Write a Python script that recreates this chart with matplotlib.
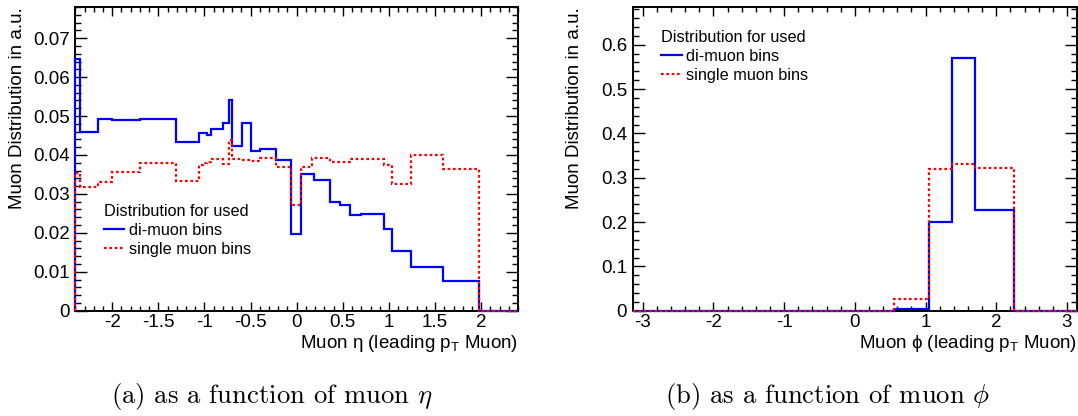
import numpy as np
import matplotlib
matplotlib.use('Agg')
import matplotlib.pyplot as plt
from matplotlib.ticker import MultipleLocator

plt.rcParams['font.family'] = ['Liberation Sans', 'DejaVu Sans']
plt.rcParams['axes.unicode_minus'] = False
plt.rcParams['mathtext.fontset'] = 'custom'
plt.rcParams['mathtext.rm'] = 'Liberation Sans'
plt.rcParams['mathtext.it'] = 'Liberation Sans:italic'

# eta histogram (bin edges + contents)
eta_edges_di = [-2.4, -2.346, -2.152, -2.007, -1.70, -1.306, -1.063, -0.977, -0.929,
                -0.796, -0.739, -0.702, -0.588, -0.497, -0.397, -0.227, -0.066, 0.049,
                0.186, 0.366, 0.466, 0.582, 0.696, 0.941, 1.038, 1.235, 1.581, 1.977, 2.4]
eta_di = [0.0647, 0.0460, 0.0492, 0.0490, 0.0492, 0.0433, 0.0456, 0.0452, 0.0466,
          0.0483, 0.0540, 0.0423, 0.0483, 0.0409, 0.0415, 0.0387, 0.0197, 0.0351,
          0.0335, 0.0278, 0.0272, 0.0246, 0.0248, 0.0211, 0.0153, 0.0111, 0.0076, 0.0]

eta_edges_single = [-2.4, -2.35, -2.152, -2.0, -1.70, -1.306, -1.063, -1.02, -0.977,
                    -0.929, -0.796, -0.739, -0.702, -0.588, -0.497, -0.397, -0.227,
                    -0.066, 0.049, 0.168, 0.366, 0.582, 0.941, 1.038, 1.235, 1.581,
                    1.977, 2.4]
eta_single = [0.0353, 0.0319, 0.0330, 0.0357, 0.0379, 0.0334, 0.0373, 0.0379, 0.0383,
              0.0389, 0.0377, 0.0439, 0.0389, 0.0387, 0.0385, 0.0392, 0.0369, 0.0272,
              0.0368, 0.0393, 0.0383, 0.0390, 0.0373, 0.0325, 0.0400, 0.0363, 0.0]

# phi histogram
phi_edges = [-np.pi, 0.55, 1.05, 1.37, 1.70, 2.25, np.pi]
phi_di = [0.0, 0.003, 0.200, 0.570, 0.228, 0.0]
phi_single = [0.0, 0.027, 0.320, 0.330, 0.322, 0.0]

legend_title = 'Distribution for used'
labels = ['di-muon bins', 'single muon bins']

fig = plt.figure(figsize=(10.78, 4.16), dpi=100)
ax1 = fig.add_axes([0.0699, 0.2531, 0.4107, 0.730])
ax2 = fig.add_axes([0.587, 0.2531, 0.412, 0.730])

def draw(ax, e1, v1, e2, v2):
    ax.stairs(v1, e1, baseline=0, color='#0000ff', lw=1.6, label=labels[0],
              zorder=3, clip_on=False)
    ax.stairs(v2, e2, baseline=0, color='#ff0000', lw=1.6, ls=(0, (1.2, 1.2)),
              label=labels[1], zorder=4, clip_on=False)
    for s in ax.spines.values():
        s.set_linewidth(1.4)
    ax.tick_params(which='both', direction='in', top=True, right=True,
                   labelsize=13.5, width=1.0, pad=4)
    ax.tick_params(axis='x', which='both', pad=2.5)
    ax.tick_params(axis='y', which='major', length=8.5)
    ax.tick_params(axis='y', which='minor', length=4.3)
    ax.tick_params(axis='x', which='major', length=6.5)
    ax.tick_params(axis='x', which='minor', length=3.3)
    ax.set_ylabel('Muon Distribution in a.u.', fontsize=13.5, loc='top')
    ax.yaxis.set_label_coords(-0.112, 1.0)

draw(ax1, eta_edges_di, eta_di, eta_edges_single, eta_single)
ax1.set_xlim(-2.4, 2.4)
ax1.set_ylim(0, 0.078)
ax1.xaxis.set_major_locator(MultipleLocator(0.5))
ax1.xaxis.set_minor_locator(MultipleLocator(0.1))
ax1.yaxis.set_major_locator(MultipleLocator(0.01))
ax1.yaxis.set_minor_locator(MultipleLocator(0.002))
ax1.set_xticks([-2, -1.5, -1, -0.5, 0, 0.5, 1, 1.5, 2])
ax1.set_xticklabels(['-2', '-1.5', '-1', '-0.5', '0', '0.5', '1', '1.5', '2'])
ax1.set_yticks([0, 0.01, 0.02, 0.03, 0.04, 0.05, 0.06, 0.07])
ax1.set_yticklabels(['0', '0.01', '0.02', '0.03', '0.04', '0.05', '0.06', '0.07'])
ax1.set_xlabel(r'Muon η (leading p$_{\mathrm{T}}$ Muon)', fontsize=13.5, loc='right')
ax1.xaxis.set_label_coords(1.0, -0.073)
ax1.legend(loc='upper left', bbox_to_anchor=(0.064, 0.352), title=legend_title,
           alignment='left', frameon=False, fontsize=11.7, title_fontsize=11.7,
           handlelength=1.25, handletextpad=0.3, labelspacing=0.25,
           borderpad=0, borderaxespad=0)

draw(ax2, phi_edges, phi_di, phi_edges, phi_single)
ax2.set_xlim(-np.pi, np.pi)
ax2.set_ylim(0, 0.685)
ax2.xaxis.set_minor_locator(MultipleLocator(0.2))
ax2.yaxis.set_minor_locator(MultipleLocator(0.02))
ax2.set_xticks([-3, -2, -1, 0, 1, 2, 3])
ax2.set_xticklabels(['-3', '-2', '-1', '0', '1', '2', '3'])
ax2.set_yticks([0, 0.1, 0.2, 0.3, 0.4, 0.5, 0.6])
ax2.set_yticklabels(['0', '0.1', '0.2', '0.3', '0.4', '0.5', '0.6'])
ax2.set_xlabel(r'Muon ϕ (leading p$_{\mathrm{T}}$ Muon)', fontsize=13.5, loc='right')
ax2.xaxis.set_label_coords(1.0, -0.073)
ax2.legend(loc='upper left', bbox_to_anchor=(0.064, 0.925), title=legend_title,
           alignment='left', frameon=False, fontsize=11.7, title_fontsize=11.7,
           handlelength=1.25, handletextpad=0.3, labelspacing=0.25,
           borderpad=0, borderaxespad=0)

fig.text(0.252, 0.046, r'(a) as a function of muon $\eta$', family='cmr10',
         math_fontfamily='cm', fontsize=19.2, ha='center', va='center')
fig.text(0.768, 0.046, r'(b) as a function of muon $\phi$', family='cmr10',
         math_fontfamily='cm', fontsize=19.2, ha='center', va='center')

fig.savefig('out.png', dpi=100)
